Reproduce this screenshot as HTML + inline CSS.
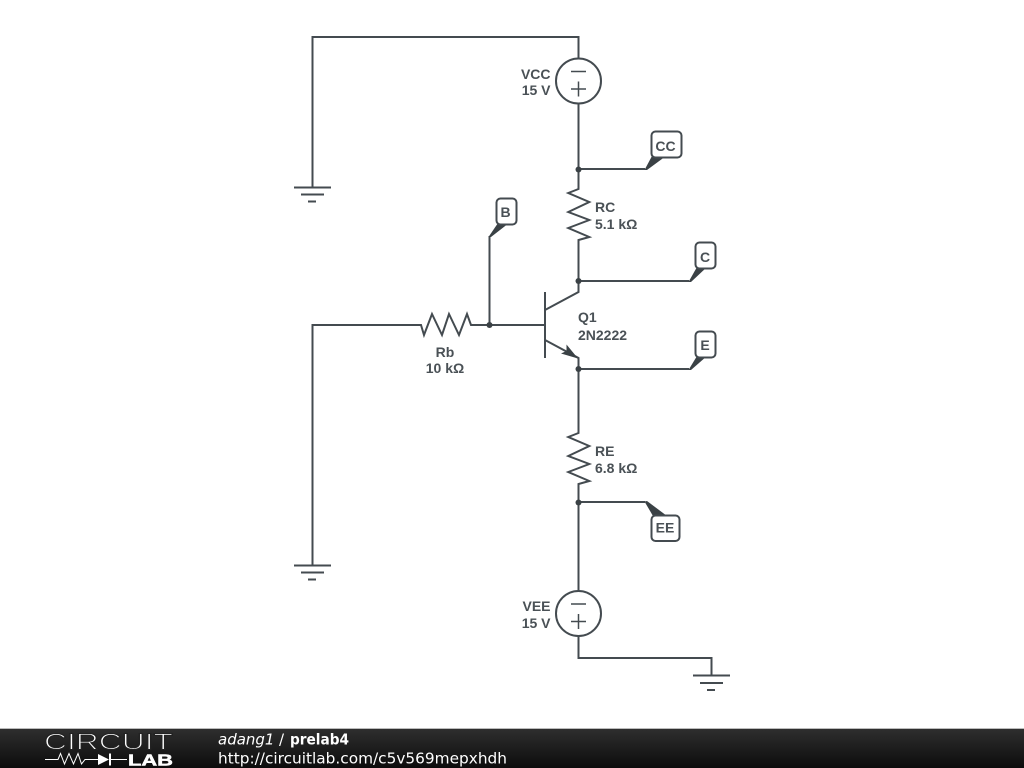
<!DOCTYPE html>
<html>
<head>
<meta charset="utf-8">
<style>
html,body{margin:0;padding:0;background:#fff;width:1024px;height:768px;overflow:hidden}
svg{display:block;position:absolute;left:0;top:0}
.w{fill:none;stroke:#444b50;stroke-width:2;stroke-linejoin:miter}
.d{fill:#3a4145;stroke:none}
.t{font-family:"Liberation Sans",Arial,sans-serif;font-size:14px;font-weight:bold;fill:#4a5156}
.b{fill:#fff;stroke:#444b50;stroke-width:2}
.f{font-family:"DejaVu Sans",sans-serif;font-size:15px;fill:#fff}
</style>
</head>
<body>
<svg width="1024" height="768" viewBox="0 0 1024 768" xmlns="http://www.w3.org/2000/svg">
<defs>
<linearGradient id="g" x1="0" y1="0" x2="0" y2="1"><stop offset="0" stop-color="#2e2e2e"/><stop offset="1" stop-color="#0c0c0c"/></linearGradient>
</defs>
<rect width="1024" height="768" fill="#fff"/>

<!-- wires -->
<path class="w" d="M312.500 187V37H578.500V58"/>
<path class="w" d="M578.500 104V189L568.300 193 589.300 202 568.300 212 589.300 220 568.300 228 589.300 237 578.500 240V292L545 310"/>
<path class="w" d="M545 340L578.500 358V433L568.300 437 589.300 446 568.300 456 589.300 464 568.300 472 589.300 481 578.500 484V591"/>
<path class="w" d="M578.500 636V658H711.500V676"/>
<path class="w" d="M312.500 565V325H421L424 335 432 314 442 335 449 314 459 335 467 314 471 325H545"/>
<path class="w" d="M545 292V358"/>
<path class="w" d="M489.500 325V236"/>
<path class="w" d="M578 169H645"/>
<path class="w" d="M578 281H689"/>
<path class="w" d="M578 369H689"/>
<path class="w" d="M578 502H645"/>

<!-- label tails -->
<path class="d" d="M644.500 170L652 156H666L647 170Z"/>
<path class="d" d="M688.500 282L697 267H707L691 282Z"/>
<path class="d" d="M688.500 370L697 356H707L691 370Z"/>
<path class="d" d="M488.500 237L498 223H509L491 237Z"/>
<path class="d" d="M644.500 501.500L647 501 667 516H653Z"/>

<!-- arrow -->
<path class="d" d="M578 358.500L561 353.500 566.500 351 566.500 344.500Z"/>

<!-- junctions -->
<circle class="d" cx="578.500" cy="169.500" r="3"/>
<circle class="d" cx="578.500" cy="281" r="3"/>
<circle class="d" cx="578.500" cy="369" r="3"/>
<circle class="d" cx="578.500" cy="502.500" r="3"/>
<circle class="d" cx="489.500" cy="325" r="3"/>

<!-- sources -->
<circle cx="578.500" cy="81" r="22.500" fill="#fff" stroke="#444b50" stroke-width="2"/>
<path class="w" d="M571 71.500H586M571 89H586M578.500 81.500V96.500" style="stroke-width:1.500"/>
<circle cx="578.500" cy="613.500" r="22.500" fill="#fff" stroke="#444b50" stroke-width="2"/>
<path class="w" d="M571 604H586M571 621.500H586M578.500 614V629" style="stroke-width:1.500"/>

<!-- grounds -->
<path class="w" d="M294 187.500H331M301 194.500H324M308 201.500H316"/>
<path class="w" d="M294 565.500H331M301 572.500H324M308 579.500H316"/>
<path class="w" d="M693 675.500H730M700 683H723M707 690H715"/>

<!-- net labels -->
<rect class="b" x="651.500" y="131.500" width="30" height="26" rx="4"/>
<text class="t" x="665.500" y="151" text-anchor="middle">CC</text>
<rect class="b" x="695.500" y="242.500" width="20" height="26" rx="4"/>
<text class="t" x="705" y="262" text-anchor="middle">C</text>
<rect class="b" x="695.500" y="331.500" width="20" height="26" rx="4"/>
<text class="t" x="705" y="350" text-anchor="middle">E</text>
<rect class="b" x="496.500" y="198.500" width="20" height="26" rx="4"/>
<text class="t" x="505.500" y="217" text-anchor="middle">B</text>
<rect class="b" x="651.500" y="515.500" width="28" height="25.500" rx="4"/>
<text class="t" x="665" y="532.500" text-anchor="middle">EE</text>

<!-- component labels -->
<text class="t" x="550.500" y="79" text-anchor="end">VCC</text>
<text class="t" x="550.500" y="95" text-anchor="end">15 V</text>
<text class="t" x="595" y="212">RC</text>
<text class="t" x="595" y="229">5.1 kΩ</text>
<text class="t" x="578" y="322">Q1</text>
<text class="t" x="578" y="340">2N2222</text>
<text class="t" x="445" y="357" text-anchor="middle">Rb</text>
<text class="t" x="445" y="373" text-anchor="middle">10 kΩ</text>
<text class="t" x="595" y="456">RE</text>
<text class="t" x="595" y="473">6.8 kΩ</text>
<text class="t" x="550.500" y="611" text-anchor="end">VEE</text>
<text class="t" x="550.500" y="628" text-anchor="end">15 V</text>

<!-- footer -->
<rect x="0" y="728" width="1024" height="1" fill="#bbb"/>
<rect x="0" y="729" width="1024" height="39" fill="url(#g)"/>
<text x="44" y="749.500" font-family="'Liberation Sans',sans-serif" font-size="23" fill="#fff" stroke="#222" stroke-width="1.100" textLength="129" lengthAdjust="spacingAndGlyphs">CIRCUIT</text>
<path d="M45 759.500H58L60.500 753.500 64.500 764 69 753.500 73.500 764 78 753.500 81.500 764 85 759.500H98" fill="none" stroke="#fff" stroke-width="1"/>
<path d="M98 754V765L109 759.500Z" fill="#fff"/>
<path d="M110 753.500V765.500" stroke="#fff" stroke-width="2"/>
<path d="M110 759.500H127" stroke="#fff" stroke-width="1"/>
<text x="128" y="765.500" font-family="'Liberation Sans',sans-serif" font-size="15.500" font-weight="bold" fill="#fff" stroke="#fff" stroke-width="0.5" textLength="45" lengthAdjust="spacingAndGlyphs">LAB</text>
<text class="f" x="218" y="744.500" font-style="italic">adang1</text>
<text class="f" x="279" y="744.500">/</text>
<text class="f" x="290" y="744.500" font-weight="bold" textLength="59" lengthAdjust="spacingAndGlyphs">prelab4</text>
<text class="f" x="218" y="763.500" textLength="289" lengthAdjust="spacingAndGlyphs">http://circuitlab.com/c5v569mepxhdh</text>
</svg>
</body>
</html>
